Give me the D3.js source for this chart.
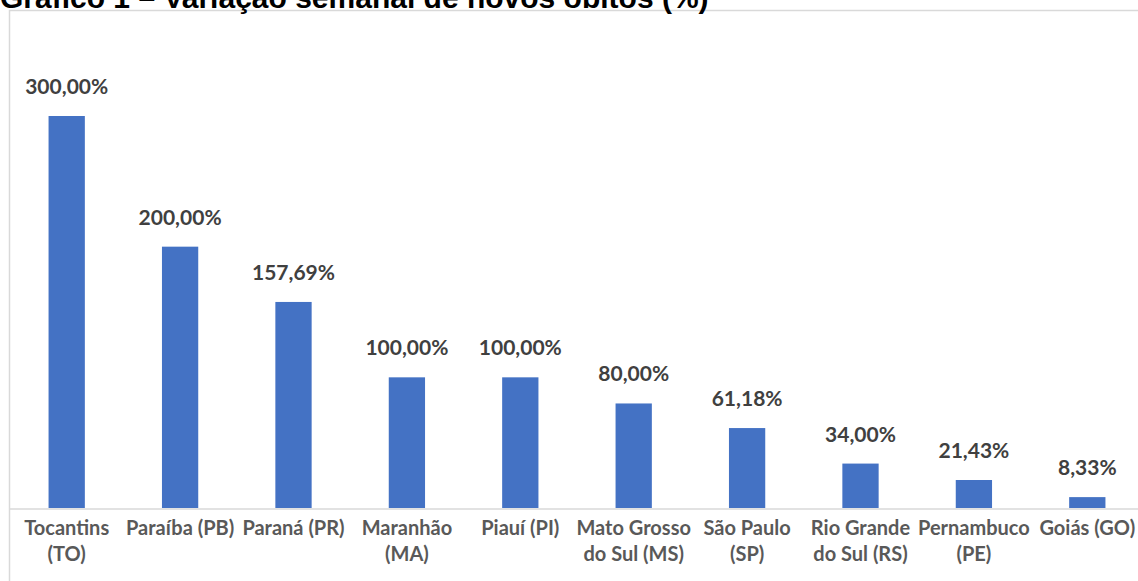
<!DOCTYPE html>
<html>
<head>
<meta charset="utf-8">
<script src="https://cdn.jsdelivr.net/npm/d3@7"></script>
<style>
  body { margin: 0; background: #fff; }
  svg { display: block; }
</style>
</head>
<body>
<div id="container"></div>
<script>
// data
var estados = ["Tocantins (TO)", "Paraíba (PB)", "Paraná (PR)", "Maranhão (MA)", "Piauí (PI)",
               "Mato Grosso do Sul (MS)", "São Paulo (SP)", "Rio Grande do Sul (RS)", "Pernambuco (PE)", "Goiás (GO)"];
var variacao = [300.00, 200.00, 157.69, 100.00, 100.00, 80.00, 61.18, 34.00, 21.43, 8.33];
// how the labels break in the picture
var linhas = [["Tocantins", "(TO)"], ["Paraíba (PB)"], ["Paraná (PR)"], ["Maranhão", "(MA)"], ["Piauí (PI)"],
              ["Mato Grosso", "do Sul (MS)"], ["São Paulo", "(SP)"], ["Rio Grande", "do Sul (RS)"], ["Pernambuco", "(PE)"], ["Goiás (GO)"]];

var width = 1138, height = 581;
var baseY = 508;

var svg = d3.select("#container")
  .append("svg")
    .attr("width", width)
    .attr("height", height);

// chart frame
svg.append("rect")
    .attr("x", 9.5).attr("y", 10.5)
    .attr("width", width + 10).attr("height", height + 10)
    .style("fill", "none")
    .style("stroke", "#d9d9d9")
    .style("stroke-width", 1.5);

// title, its top is cut off in the picture too
svg.append("text")
    .attr("x", 0)
    .attr("y", 8)
    .text("Gráfico 1 – Variação semanal de novos óbitos (%)")
    .attr("font-family", "Liberation Sans, Arial, sans-serif")
    .attr("font-weight", "bold")
    .attr("font-size", "30px")
    .attr("fill", "#000");

var x = d3.scaleBand()
    .domain(estados)
    .range([10, 1144])
    .paddingInner(0.68)
    .paddingOuter(0.34);

var y = d3.scaleLinear()
    .domain([0, 300])
    .range([baseY, 116]);

// bars
svg.selectAll("rect.bar")
  .data(variacao)
  .enter()
  .append("rect")
    .attr("class", "bar")
    .attr("x", function(d, i) { return x(estados[i]); })
    .attr("y", function(d) { return y(d); })
    .attr("width", x.bandwidth())
    .attr("height", function(d) { return baseY - y(d); })
    .style("fill", "#4472c4");

// axis line
svg.append("line")
    .attr("x1", 10).attr("x2", width)
    .attr("y1", baseY + 1).attr("y2", baseY + 1)
    .style("stroke", "#d9d9d9")
    .style("stroke-width", 1.5);

// value labels
var fmt = function(v) { return v.toFixed(2).replace(".", ",") + "%"; };
svg.selectAll("text.val")
  .data(variacao)
  .enter()
  .append("text")
    .attr("class", "val")
    .attr("x", function(d, i) { return x(estados[i]) + x.bandwidth() / 2; })
    .attr("y", function(d) { return y(d) - 22; })
    .attr("text-anchor", "middle")
    .text(fmt)
    .attr("font-family", "Lato, sans-serif")
    .attr("font-weight", "bold")
    .attr("font-size", "21px")
    .attr("fill", "#404040");

// category labels
var cat = svg.selectAll("text.cat")
  .data(estados)
  .enter()
  .append("text")
    .attr("class", "cat")
    .attr("x", function(d) { return x(d) + x.bandwidth() / 2; })
    .attr("y", 535)
    .attr("text-anchor", "middle")
    .attr("font-family", "Lato, sans-serif")
    .attr("font-weight", "bold")
    .attr("font-size", "20px")
    .attr("fill", "#595959");

cat.selectAll("tspan")
  .data(function(d, i) { return linhas[i]; })
  .enter()
  .append("tspan")
    .attr("x", function() { return d3.select(this.parentNode).attr("x"); })
    .attr("dy", function(d, j) { return j ? 26 : 0; })
    .text(function(d) { return d; });
</script>
</body>
</html>
